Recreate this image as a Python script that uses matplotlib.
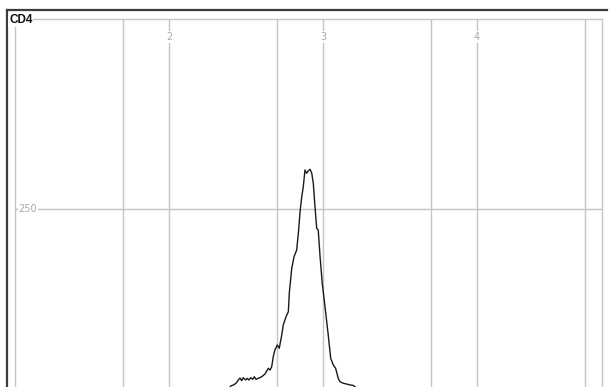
import numpy as np
import matplotlib
matplotlib.use("Agg")
import matplotlib.pyplot as plt
from matplotlib.lines import Line2D

# x in decades (log10 of intensity), y in event counts
decades = [2.37, 2.401, 2.418, 2.435, 2.450, 2.461, 2.472, 2.482, 2.498, 2.508, 2.519,
           2.531, 2.544, 2.554, 2.565, 2.580, 2.602, 2.623, 2.645, 2.656, 2.667,
           2.677, 2.688, 2.703, 2.716, 2.732, 2.742, 2.760, 2.775, 2.781, 2.797,
           2.812, 2.829, 2.840, 2.851, 2.862, 2.872, 2.883, 2.894, 2.905, 2.916,
           2.927, 2.937, 2.948, 2.959, 2.969, 2.981, 2.995, 3.013, 3.034, 3.050,
           3.067, 3.082, 3.099, 3.110, 3.132, 3.154, 3.175, 3.193, 3.208, 3.24]
counts = [40.0, 48.9, 50.0, 51.9, 55.7, 58.0, 54.9, 58.3, 55.7, 57.6, 55.7,
          58.3, 56.5, 59.4, 56.5, 57.6, 59.4, 62.5, 69.0, 67.0, 70.8,
          82.2, 89.8, 95.5, 91.7, 106.8, 118.2, 127.6, 133.3, 154.2, 182.6,
          195.8, 203.4, 222.4, 246.9, 264.0, 275.3, 294.3, 290.6, 293.5, 295.1,
          290.6, 279.2, 252.6, 228.1, 226.1, 195.8, 165.6, 139.0, 106.8, 80.3,
          72.7, 69.0, 57.6, 53.8, 51.9, 51.1, 50.0, 49.7, 48.1, 42.0]

x_ticks = [2, 3, 4]
x_half_lines = [1.699, 2.699, 3.699, 4.699]
y_ticks = [250]
title = "CD4"

W, H = 609, 387
fig = plt.figure(figsize=(W / 100, H / 100), dpi=100)

# axes frame in pixel units: left 15, right 602, top 19, y=0 at 429 (below visible area)
left, right, top, bottom = 15, 602, 19, 429
ax = fig.add_axes([left / W, (H - bottom) / H, (right - left) / W, (bottom - top) / H])
ax.set_xlim(1.0, 4.8117)
ax.set_ylim(0, 465.9)
ax.set_xticks([])
ax.set_yticks([])
for sp in ax.spines.values():
    sp.set_color("#c4c4c4")
    sp.set_linewidth(1.0)

grid_col = "#c4c4c4"
for xv in x_ticks + x_half_lines:
    ax.axvline(xv, color=grid_col, lw=1.0, zorder=1)
for yv in y_ticks:
    ax.axhline(yv, color=grid_col, lw=1.0, zorder=1)

ax.plot(decades, counts, color="#1a1a1a", lw=1.0, zorder=3)

lab_font = dict(fontsize=7, color="#a8a8a8", family="DejaVu Sans")
for xv in x_ticks:
    ax.text(xv, 1 - 18 / (bottom - top), str(xv), transform=ax.get_xaxis_transform(),
            ha="center", va="center", zorder=2,
            bbox=dict(facecolor="white", edgecolor="none", pad=0.6), **lab_font)
for yv in y_ticks:
    ax.plot([1.0, 1.0 + 3 / 154], [yv, yv], color=grid_col, lw=1.0, zorder=1)
    ax.text(1.0 + 3.5 / 154, yv, str(yv), ha="left", va="center", zorder=2,
            bbox=dict(facecolor="white", edgecolor="none", pad=0.6), **lab_font)

# outer dark frame (top and left edge)
fig.add_artist(Line2D([7 / W, 607 / W], [(H - 10) / H, (H - 10) / H],
                      color="#3c3c3c", lw=1.6, transform=fig.transFigure))
fig.add_artist(Line2D([7 / W, 7 / W], [(H - 10) / H, 0],
                      color="#3c3c3c", lw=1.6, transform=fig.transFigure))

fig.text(9 / W, (H - 20) / H, title, ha="left", va="center", fontsize=8.5,
         fontweight="bold", family="Liberation Sans", color="#111111",
         bbox=dict(facecolor="white", edgecolor="none", pad=0.8))

fig.savefig("out.png", dpi=100)
